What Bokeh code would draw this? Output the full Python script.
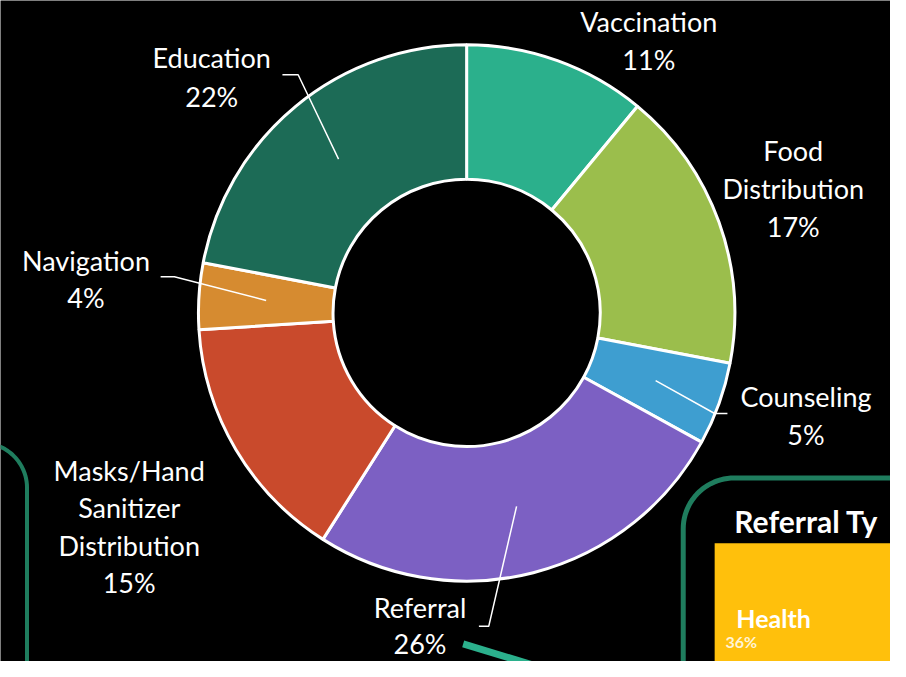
import numpy as np
from bokeh.plotting import figure
from bokeh.models import Range1d, ColumnDataSource
from bokeh.core.properties import value
from bokeh.embed import file_html
from bokeh.resources import INLINE

# ---- data ----
categories = ["Vaccination", "Food Distribution", "Counseling", "Referral",
              "Masks/Hand Sanitizer Distribution", "Navigation", "Education"]
values = [11, 17, 5, 26, 15, 4, 22]
label_lines = [["Vaccination"], ["Food", "Distribution"], ["Counseling"], ["Referral"],
               ["Masks/Hand", "Sanitizer", "Distribution"], ["Navigation"], ["Education"]]
side_title = "Referral Ty"
side_category = "Health"
side_value = 36

# ---- styles / layout (reference pixel space, y down) ----
colors = ["#2BB08C", "#9BBE4C", "#3E9ED0", "#7C60C3", "#C94A2C", "#D68B30", "#1C6B56"]
W, H = 906, 677
CX, CY = 474.5, 320.0
R_IN, R_OUT = 136.0, 273.0
label_pos = [(660, 22), (807, 154), (820, 406), (427, 622), (131, 481), (87, 266), (215, 58)]
label_gap = [38.5, 38.5, 38.5, 36.5, 38.5, 38.5, 40]
# (attach point, elbow point) for leader lines; None = no leader
leaders = [None, None, ((740, 423), (727, 423)), ((487, 641), (497, 641)),
           None, ((163, 283), (177, 283)), ((287, 76), (303, 76))]
FONT = "Lato"


def Y(py):
    return H - py


p = figure(width=890, height=661, x_range=Range1d(0, W), y_range=Range1d(0, H),
           output_backend="svg", toolbar_location=None, min_border=0)
p.background_fill_color = "black"
p.border_fill_color = "black"
p.outline_line_color = None
p.axis.visible = False
p.grid.visible = False

# ---- donut ----
total = float(sum(values))
cum = np.concatenate([[0], np.cumsum(values)]) / total
starts = np.pi / 2 - 2 * np.pi * cum[1:]
ends = np.pi / 2 - 2 * np.pi * cum[:-1]
src = ColumnDataSource(dict(cat=categories, val=values, start=starts, end=ends, color=colors))
p.annular_wedge(x=CX, y=Y(CY), inner_radius=R_IN, outer_radius=R_OUT,
                start_angle="start", end_angle="end", fill_color="color",
                line_color="white", line_width=3, source=src)

# ---- leader lines ----
mids = (cum[:-1] + cum[1:]) / 2
r_mid = (R_IN + R_OUT) / 2
for i, ld in enumerate(leaders):
    if ld is None:
        continue
    a = 2 * np.pi * mids[i]
    ex = CX + r_mid * np.sin(a)
    ey = CY - r_mid * np.cos(a)
    (ax, ay), (bx, by) = ld
    p.line([ax, bx, ex], [Y(ay), Y(by), Y(ey)], line_color="white", line_width=1.5)

# ---- labels ----
tx, ty, tt = [], [], []
for i, lines in enumerate(label_lines):
    x0, y0 = label_pos[i]
    all_lines = lines + [f"{values[i]}%"]
    for k, s in enumerate(all_lines):
        tx.append(x0)
        ty.append(Y(y0 + k * label_gap[i]))
        tt.append(s)
p.text(x=tx, y=ty, text=tt, text_color="white", text_font=value(FONT),
       text_font_size="27px", text_align="center", text_baseline="middle")


# ---- decorative partial panels ----
def rrect(x0, y0, x1, y1, r, n=24):
    xs, ys = [], []
    corners = [(x1 - r, y0 + r, -np.pi / 2, 0), (x1 - r, y1 - r, 0, np.pi / 2),
               (x0 + r, y1 - r, np.pi / 2, np.pi), (x0 + r, y0 + r, np.pi, 1.5 * np.pi)]
    for (cx, cy, a0, a1) in corners:
        t = np.linspace(a0, a1, n)
        xs.extend(cx + r * np.cos(t))
        ys.extend(cy + r * np.sin(t))
    xs.append(xs[0]); ys.append(ys[0])
    return np.array(xs), H - np.array(ys)


lx, ly = rrect(-120, 453, 27, 800, 46)
p.line(lx, ly, line_color="#1F7D5E", line_width=4)
rx, ry = rrect(695, 489, 1000, 800, 52)
p.line(rx, ry, line_color="#1F7D5E", line_width=5)

p.quad(left=727, right=W + 5, top=Y(556), bottom=Y(H + 5), fill_color="#FFC00C", line_color=None)
p.text(x=[747], y=[Y(533)], text=[side_title], text_color="white", text_font=value(FONT),
       text_font_style="bold", text_font_size="30px", text_align="left", text_baseline="middle")
p.text(x=[749], y=[Y(632)], text=[side_category], text_color="white", text_font=value(FONT),
       text_font_style="bold", text_font_size="25px", text_align="left", text_baseline="middle")
p.text(x=[738], y=[Y(657)], text=[f"{side_value}%"], text_color="#FFF4D6", text_font=value(FONT),
       text_font_style="bold", text_font_size="16px", text_align="left", text_baseline="middle")

# teal connector fragment at bottom
p.line([471, 540], [Y(659), Y(680)], line_color="#2BB08C", line_width=7)

open("out.html", "w").write(file_html(p, INLINE))
